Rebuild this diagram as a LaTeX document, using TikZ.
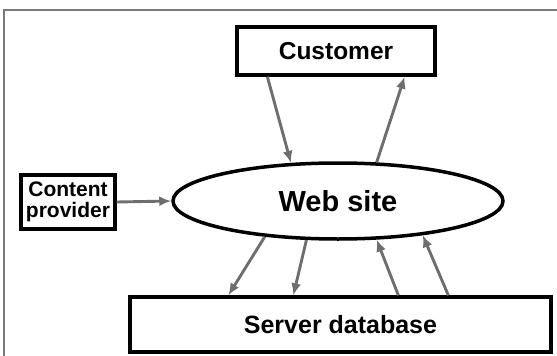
\documentclass[tikz,border=0pt]{standalone}
\usepackage{fontspec}
\setmainfont{Liberation Sans}
\usetikzlibrary{shapes.geometric,arrows.meta}
\definecolor{flowgray}{HTML}{6E6E6E}
\definecolor{framegray}{HTML}{7A7A7A}
\begin{document}
\begin{tikzpicture}[x=1pt,y=-1pt,
  box/.style={draw=black,line width=3.3pt,fill=white,inner sep=0pt,align=center,font=\bfseries},
  site/.style={draw=black,line width=3.5pt,ellipse,fill=white,inner sep=0pt,font=\bfseries},
  flow/.style={draw=flowgray,line width=2.9pt,-{Latex[length=12pt,width=10pt]}}]
  \useasboundingbox (0,0) rectangle (557,356);
  % outer frame, running off the right and bottom edges
  \draw[framegray,line width=2pt] (4,10) rectangle (575,375);

  % boxes and the central ellipse
  \node[box,minimum width=198pt,minimum height=48pt,font=\bfseries\fontsize{24.5}{28}\selectfont] (cust) at (336,51) {Customer};
  \node[box,minimum width=94pt,minimum height=54pt,font=\bfseries\fontsize{21}{21.5}\selectfont] (prov) at (68,202) {Content\\provider};
  \node[site,minimum width=330pt,minimum height=76pt,font=\bfseries\fontsize{29}{32}\selectfont] (web) at (338,201) {Web site};
  \node[box,minimum width=421pt,minimum height=55pt,font=\bfseries\fontsize{25}{28}\selectfont] (srv) at (340.5,324.5) {Server database};

  % customer <-> web site
  \draw[flow] ([xshift=32pt]cust.south west) -- (web.141.8);
  \draw[flow] (web.45.8) -- ([xshift=-32pt]cust.south east);
  % content provider -> web site
  \draw[flow] (prov.east) -- (web.west);
  % web site <-> server database
  \draw[flow] (web.206.2) -- ([xshift=100pt]srv.north west);
  \draw[flow] (web.231) -- ([xshift=165pt]srv.north west);
  \draw[flow] ([xshift=270pt]srv.north west) -- (web.-45);
  \draw[flow] ([xshift=320pt]srv.north west) -- (web.-22.7);
\end{tikzpicture}
\end{document}
